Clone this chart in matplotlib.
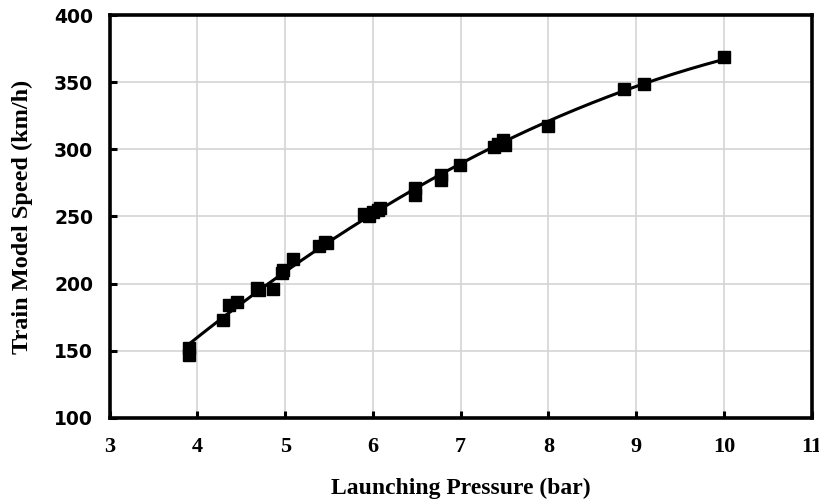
import numpy as np
import matplotlib
matplotlib.use('Agg')
import matplotlib.pyplot as plt

# launching pressure (bar) and measured train model speed (km/h)
pressure = [3.9, 3.9, 4.29, 4.36, 4.45, 4.68, 4.7, 4.86, 4.96, 4.98, 5.09,
            5.39, 5.45, 5.48, 5.9, 5.95, 6.0, 6.06, 6.08, 6.48, 6.48, 6.77,
            6.78, 6.99, 7.38, 7.43, 7.48, 7.5, 8.0, 8.86, 9.09, 10.0]
speed = [152, 147, 173, 184, 186, 197, 195, 196, 208, 210, 218,
         228, 231, 230, 252, 250, 253, 255, 256, 266, 271, 277,
         281, 288, 302, 304, 307, 303, 317, 345, 349, 369]

x_ticks = [3, 4, 5, 6, 7, 8, 9, 10, 11]
y_ticks = [100, 150, 200, 250, 300, 350, 400]

serif = 'Liberation Serif'

fig = plt.figure(figsize=(8.19, 5.01), dpi=100)
ax = fig.add_axes([0.134, 0.166, 0.857, 0.804])

# quadratic trend line through the measurements
coef = np.polyfit(pressure, speed, 2)
xs = np.linspace(min(pressure), max(pressure), 200)
ax.plot(xs, np.polyval(coef, xs), color='black', lw=2.2, zorder=3)
ax.plot(pressure, speed, 's', color='black', ms=8.5, zorder=4)

ax.set_xlim(3, 11)
ax.set_ylim(100, 400)
ax.set_xticks(x_ticks)
ax.set_yticks(y_ticks)
ax.grid(True, color='#d4d4d4', lw=1.2)
ax.set_axisbelow(True)

for s in ax.spines.values():
    s.set_linewidth(2.6)
ax.tick_params(direction='in', length=5, width=2.2)
ax.tick_params(axis='x', pad=14)
ax.tick_params(axis='y', pad=12)

ax.set_xticklabels([str(t) for t in x_ticks], fontfamily=serif,
                   fontweight='bold', fontsize=16)
ax.set_yticklabels([str(t) for t in y_ticks], fontfamily='DejaVu Sans',
                   fontweight='bold', fontsize=13.5)

ax.set_xlabel('Launching Pressure (bar)', fontfamily=serif,
              fontweight='bold', fontsize=17, labelpad=15)
ax.set_ylabel('Train Model Speed (km/h)', fontfamily=serif,
              fontweight='bold', fontsize=17.5, labelpad=15)

fig.savefig('out.png', dpi=100)
